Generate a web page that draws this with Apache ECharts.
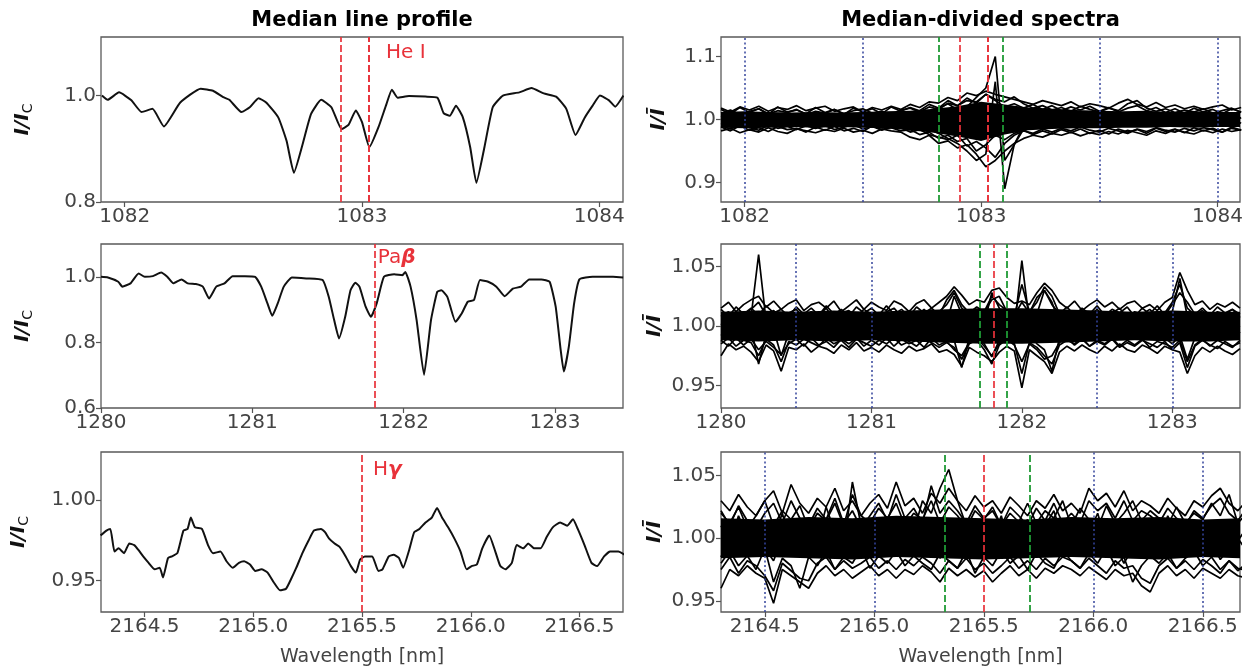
<!DOCTYPE html>
<html><head><meta charset="utf-8">
<script src="https://cdn.jsdelivr.net/npm/echarts@6/dist/echarts.min.js"></script>
<style>html,body{margin:0;padding:0;background:#fff}#c{width:1249px;height:668px}</style>
</head><body><div id="c"></div><script>
// ---------------- DATA ----------------
// Left column: median line profiles
const heLam = [1081.904,1081.928,1081.976,1082.028,1082.071,1082.117,1082.165,1082.234,1082.320,1082.372,1082.415,1082.441,1082.492,1082.527,1082.564,1082.596,1082.647,1082.682,1082.713,1082.750,1082.785,1082.828,1082.871,1082.914,1082.943,1082.974,1083.000,1083.031,1083.069,1083.103,1083.126,1083.150,1083.198,1083.267,1083.318,1083.344,1083.370,1083.396,1083.425,1083.456,1083.482,1083.516,1083.551,1083.594,1083.663,1083.714,1083.766,1083.818,1083.861,1083.900,1083.938,1083.972,1084.003,1084.041,1084.067,1084.102];
const heVal = [1.000,0.992,1.006,0.991,0.969,0.975,0.942,0.987,1.013,1.009,0.997,0.992,0.969,0.978,0.995,0.987,0.959,0.915,0.855,0.909,0.965,0.992,0.978,0.937,0.945,0.972,0.950,0.903,0.940,0.984,1.011,0.996,0.999,0.998,0.996,0.967,0.962,0.981,0.959,0.903,0.836,0.903,0.978,1.000,1.006,1.014,1.004,0.998,0.975,0.926,0.958,0.981,1.000,0.991,0.979,1.000];
const paLam = [1280.000,1280.046,1280.114,1280.141,1280.195,1280.249,1280.289,1280.343,1280.397,1280.438,1280.478,1280.532,1280.573,1280.627,1280.673,1280.714,1280.762,1280.816,1280.870,1280.951,1281.019,1281.059,1281.100,1281.132,1281.168,1281.208,1281.262,1281.357,1281.465,1281.505,1281.541,1281.573,1281.614,1281.649,1281.681,1281.708,1281.749,1281.784,1281.822,1281.870,1281.938,1281.992,1282.011,1282.046,1282.086,1282.135,1282.181,1282.222,1282.249,1282.289,1282.343,1282.384,1282.424,1282.465,1282.505,1282.559,1282.613,1282.668,1282.722,1282.776,1282.830,1282.911,1282.965,1283.005,1283.038,1283.059,1283.092,1283.127,1283.162,1283.249,1283.384,1283.451];
const paVal = [1.000,0.998,0.985,0.970,0.980,1.010,1.000,1.002,1.013,1.000,0.980,0.992,0.980,0.978,0.970,0.934,0.970,0.980,1.002,1.002,1.000,0.970,0.919,0.881,0.919,0.970,0.998,0.995,0.990,0.939,0.868,0.812,0.878,0.959,0.982,0.970,0.909,0.878,0.919,1.000,1.008,1.005,1.015,0.970,0.868,0.701,0.868,0.954,0.959,0.939,0.863,0.888,0.924,0.929,0.990,0.985,0.970,0.941,0.964,0.970,0.992,0.992,0.985,0.909,0.777,0.711,0.787,0.919,0.992,1.000,1.000,0.998];
const hgLam = [2164.298,2164.325,2164.343,2164.362,2164.381,2164.406,2164.430,2164.453,2164.472,2164.494,2164.519,2164.547,2164.570,2164.585,2164.608,2164.626,2164.651,2164.679,2164.698,2164.713,2164.732,2164.764,2164.792,2164.815,2164.849,2164.877,2164.906,2164.934,2164.958,2164.985,2165.009,2165.038,2165.066,2165.094,2165.123,2165.151,2165.174,2165.198,2165.226,2165.255,2165.279,2165.311,2165.330,2165.349,2165.374,2165.396,2165.425,2165.449,2165.472,2165.491,2165.513,2165.547,2165.575,2165.594,2165.623,2165.645,2165.670,2165.689,2165.717,2165.740,2165.764,2165.792,2165.821,2165.845,2165.868,2165.896,2165.925,2165.953,2165.981,2166.004,2166.028,2166.053,2166.085,2166.113,2166.136,2166.160,2166.189,2166.211,2166.242,2166.264,2166.292,2166.321,2166.349,2166.377,2166.411,2166.443,2166.470,2166.492,2166.523,2166.555,2166.581,2166.613,2166.641,2166.679,2166.708];
const hgVal = [0.978,0.981,0.982,0.968,0.970,0.967,0.973,0.972,0.969,0.965,0.961,0.957,0.958,0.952,0.964,0.965,0.967,0.981,0.982,0.989,0.983,0.982,0.972,0.967,0.968,0.962,0.958,0.961,0.962,0.960,0.956,0.957,0.955,0.949,0.944,0.945,0.951,0.958,0.967,0.975,0.981,0.982,0.980,0.976,0.973,0.971,0.965,0.959,0.955,0.963,0.965,0.965,0.956,0.957,0.965,0.966,0.964,0.958,0.969,0.980,0.982,0.986,0.989,0.995,0.989,0.983,0.976,0.968,0.957,0.959,0.960,0.970,0.978,0.968,0.959,0.957,0.961,0.972,0.970,0.973,0.970,0.970,0.977,0.983,0.986,0.984,0.988,0.982,0.972,0.961,0.959,0.965,0.968,0.968,0.966];

// Right column: median-divided spectra (sampling grids: start, step, count)
const heGrid = {start:1081.90, step:0.04, n:56};
const heSpec1 = [1.018,1.012,1.020,1.015,1.021,1.013,1.019,1.016,1.022,1.014,1.018,1.021,1.013,1.017,1.020,1.012,1.019,1.015,1.021,1.016,1.024,1.019,1.028,1.026,1.035,1.030,1.042,1.038,1.045,1.040,1.036,1.032,1.028,1.024,1.030,1.026,1.022,1.028,1.020,1.025,1.022,1.018,1.026,1.032,1.024,1.020,1.027,1.019,1.023,1.017,1.021,1.016,1.020,1.023,1.015,1.019];
const heSpec2 = [0.982,0.986,0.979,0.984,0.980,0.987,0.981,0.978,0.985,0.982,0.979,0.984,0.981,0.986,0.980,0.983,0.978,0.985,0.982,0.980,0.972,0.968,0.975,0.962,0.966,0.955,0.960,0.945,0.925,0.935,0.950,0.962,0.970,0.975,0.972,0.978,0.975,0.980,0.974,0.979,0.976,0.981,0.977,0.983,0.979,0.975,0.982,0.978,0.984,0.980,0.977,0.983,0.979,0.985,0.981,0.984];
const heSpec3 = [1.005,0.998,1.008,1.002,0.996,1.006,1.000,1.009,0.997,1.004,1.001,0.995,1.007,1.003,0.999,1.008,0.996,1.004,1.000,1.006,1.002,1.008,1.012,1.018,1.025,1.015,1.020,1.035,1.050,1.100,0.935,0.960,0.990,1.005,1.012,1.002,1.008,0.998,1.006,1.002,0.997,1.007,1.001,1.009,0.999,1.004,1.010,0.998,1.005,1.001,1.006,0.999,1.004,1.008,0.997,1.003];
const heSpec4 = [0.992,1.000,0.994,0.990,0.998,0.993,1.001,0.991,0.996,0.999,0.993,0.998,0.990,0.996,1.001,0.992,0.997,0.994,0.999,0.991,0.995,0.990,0.985,0.978,0.970,0.962,0.950,0.935,0.945,1.060,0.890,0.960,0.985,0.995,0.990,1.000,0.993,0.997,0.990,0.999,0.994,0.990,0.998,0.993,0.996,1.000,0.991,0.997,0.994,0.999,0.992,0.998,0.993,0.996,1.000,0.994];
const heSpec5 = [1.010,1.015,1.008,1.013,1.017,1.009,1.014,1.011,1.016,1.008,1.013,1.010,1.016,1.009,1.014,1.017,1.010,1.013,1.008,1.015,1.018,1.012,1.020,1.016,1.026,1.022,1.030,1.028,1.040,1.032,1.028,1.036,1.025,1.018,1.022,1.015,1.019,1.013,1.021,1.016,1.012,1.018,1.014,1.025,1.030,1.018,1.013,1.017,1.011,1.015,1.012,1.017,1.010,1.014,1.018,1.011];
const heSpec6 = [0.990,0.985,0.992,0.987,0.983,0.991,0.986,0.989,0.984,0.990,0.986,0.990,0.984,0.988,0.992,0.985,0.989,0.983,0.990,0.987,0.980,0.984,0.976,0.972,0.968,0.975,0.958,0.965,0.955,0.940,0.962,0.975,0.982,0.978,0.985,0.980,0.986,0.982,0.988,0.983,0.980,0.986,0.982,0.978,0.985,0.981,0.987,0.983,0.980,0.986,0.982,0.987,0.984,0.980,0.986,0.983];
const heSpec7 = [1.016,1.009,1.019,1.011,1.017,1.008,1.020,1.012,1.015,1.009,1.019,1.011,1.016,1.008,1.018,1.012,1.017,1.009,1.020,1.013,1.019,1.014,1.024,1.018,1.030,1.022,1.034,1.026,1.040,1.030,1.020,1.025,1.018,1.024,1.016,1.022,1.014,1.020,1.015,1.021,1.013,1.019,1.012,1.018,1.022,1.014,1.019,1.011,1.017,1.010,1.018,1.012,1.016,1.009,1.017,1.012];
const heSpec8 = [0.988,0.982,0.990,0.983,0.987,0.981,0.989,0.984,0.986,0.980,0.988,0.983,0.989,0.982,0.986,0.981,0.990,0.984,0.987,0.982,0.984,0.976,0.980,0.970,0.975,0.965,0.970,0.950,0.960,0.975,0.968,0.978,0.983,0.976,0.982,0.977,0.984,0.979,0.985,0.978,0.983,0.977,0.985,0.980,0.984,0.978,0.986,0.981,0.985,0.979,0.987,0.982,0.986,0.980,0.988,0.983];
const heBandX  = [1081.9,1082.0,1082.1,1082.2,1082.3,1082.4,1082.5,1082.6,1082.7,1082.8,1082.9,1083.0,1083.1,1083.2,1083.3,1083.4,1083.5,1083.6,1083.7,1083.8,1083.9,1084.0,1084.1];
const heBandLo = [0.987,0.986,0.987,0.988,0.987,0.988,0.987,0.986,0.983,0.979,0.973,0.966,0.976,0.983,0.985,0.986,0.986,0.987,0.987,0.988,0.987,0.988,0.988];
const heBandHi = [1.012,1.013,1.012,1.011,1.012,1.011,1.012,1.013,1.014,1.017,1.021,1.028,1.024,1.019,1.017,1.015,1.014,1.013,1.014,1.012,1.013,1.012,1.012];

const paGrid = {start:1280.00, step:0.05, n:70};
const paSpec1 = [1.015,1.020,1.012,1.018,1.022,1.025,1.016,1.021,1.014,1.019,1.022,1.013,1.018,1.020,1.015,1.021,1.012,1.017,1.022,1.014,1.020,1.016,1.013,1.021,1.018,1.012,1.019,1.022,1.015,1.020,1.025,1.033,1.026,1.018,1.022,1.020,1.030,1.032,1.024,1.019,1.021,1.018,1.028,1.036,1.030,1.020,1.015,1.021,1.013,1.018,1.022,1.016,1.020,1.014,1.019,1.021,1.015,1.018,1.013,1.020,1.024,1.045,1.030,1.018,1.021,1.014,1.019,1.016,1.020,1.015];
const paSpec2 = [0.975,0.985,0.980,0.983,0.978,0.970,0.984,0.979,0.962,0.982,0.980,0.985,0.978,0.983,0.981,0.977,0.984,0.980,0.986,0.979,0.982,0.978,0.984,0.980,0.977,0.983,0.979,0.981,0.985,0.978,0.980,0.976,0.966,0.982,0.978,0.975,0.970,0.978,0.983,0.979,0.948,0.980,0.975,0.970,0.960,0.978,0.983,0.979,0.984,0.980,0.977,0.983,0.979,0.985,0.980,0.978,0.984,0.981,0.977,0.983,0.980,0.978,0.960,0.975,0.982,0.978,0.983,0.979,0.976,0.981];
const paSpec3 = [1.002,0.996,1.006,1.000,1.008,1.060,1.004,0.998,1.007,1.001,0.997,1.005,1.000,1.008,0.996,1.003,1.009,0.999,1.004,0.997,1.006,1.001,0.998,1.007,1.002,0.996,1.005,1.000,1.008,0.997,1.003,1.025,1.010,0.999,1.006,1.002,1.028,1.015,1.004,0.998,1.055,1.003,1.010,1.030,1.020,1.002,0.997,1.006,1.001,1.008,0.998,1.004,1.000,1.007,0.996,1.003,1.008,1.000,0.997,1.005,1.012,1.040,1.008,0.999,1.005,1.001,0.996,1.006,1.002,0.999];
const paSpec4 = [0.992,0.998,0.990,0.995,0.999,0.968,0.993,0.997,0.975,0.994,0.990,0.996,0.992,0.999,0.988,0.994,0.997,0.991,0.995,0.989,0.996,0.992,0.998,0.990,0.995,0.999,0.991,0.994,0.989,0.997,0.992,0.988,0.965,0.990,0.996,0.985,0.974,0.988,0.995,0.991,0.995,0.993,0.985,0.980,0.962,0.990,0.996,0.992,0.998,0.990,0.994,0.999,0.991,0.996,0.989,0.995,0.998,0.992,0.994,0.990,0.985,0.992,0.972,0.990,0.996,0.991,0.997,0.993,0.989,0.995];
const paSpec5 = [1.008,1.012,1.005,1.010,1.014,1.020,1.009,1.013,1.006,1.011,1.014,1.007,1.012,1.009,1.015,1.006,1.011,1.013,1.008,1.014,1.010,1.006,1.012,1.015,1.008,1.013,1.009,1.014,1.007,1.012,1.018,1.028,1.015,1.010,1.014,1.012,1.022,1.025,1.012,1.008,1.035,1.012,1.020,1.033,1.025,1.010,1.013,1.007,1.012,1.009,1.014,1.008,1.011,1.015,1.007,1.012,1.010,1.014,1.008,1.011,1.020,1.035,1.015,1.009,1.013,1.008,1.012,1.010,1.014,1.007];
const paSpec6 = [0.985,0.990,0.983,0.988,0.986,0.975,0.989,0.984,0.970,0.987,0.984,0.989,0.986,0.983,0.990,0.985,0.988,0.982,0.989,0.986,0.983,0.988,0.985,0.990,0.984,0.987,0.983,0.989,0.986,0.982,0.986,0.982,0.972,0.985,0.988,0.980,0.968,0.984,0.989,0.985,0.960,0.986,0.982,0.975,0.968,0.984,0.988,0.985,0.990,0.983,0.987,0.984,0.989,0.982,0.986,0.983,0.988,0.985,0.982,0.987,0.980,0.986,0.965,0.983,0.988,0.984,0.981,0.987,0.983,0.986];
const paSpec7 = [1.014,1.008,1.016,1.010,1.015,1.009,1.017,1.011,1.014,1.008,1.016,1.010,1.015,1.009,1.017,1.010,1.014,1.008,1.016,1.011,1.015,1.009,1.017,1.010,1.014,1.008,1.016,1.011,1.015,1.009,1.022,1.030,1.018,1.011,1.016,1.012,1.025,1.018,1.013,1.009,1.020,1.011,1.024,1.030,1.018,1.010,1.016,1.009,1.015,1.010,1.017,1.009,1.014,1.011,1.016,1.008,1.015,1.010,1.017,1.009,1.018,1.028,1.020,1.010,1.015,1.009,1.016,1.011,1.014,1.010];
const paSpec8 = [0.988,0.983,0.990,0.984,0.989,0.980,0.987,0.982,0.976,0.985,0.989,0.983,0.990,0.984,0.987,0.982,0.989,0.985,0.990,0.983,0.988,0.984,0.990,0.983,0.989,0.985,0.988,0.982,0.990,0.984,0.987,0.980,0.975,0.986,0.990,0.983,0.975,0.985,0.989,0.984,0.970,0.985,0.980,0.972,0.975,0.986,0.990,0.984,0.989,0.983,0.988,0.985,0.990,0.983,0.988,0.984,0.989,0.982,0.987,0.985,0.982,0.988,0.970,0.984,0.989,0.983,0.988,0.985,0.982,0.988];
const paBandX  = [1280.00,1280.25,1280.50,1280.75,1281.00,1281.25,1281.50,1281.75,1282.00,1282.25,1282.50,1282.75,1283.00,1283.25,1283.45];
const paBandLo = [0.988,0.987,0.988,0.987,0.988,0.987,0.986,0.985,0.985,0.986,0.987,0.988,0.987,0.987,0.988];
const paBandHi = [1.012,1.013,1.012,1.013,1.012,1.013,1.014,1.015,1.015,1.014,1.013,1.012,1.013,1.012,1.012];

const hgGrid = {start:2164.30, step:0.04, n:61};
const hgSpec1 = [1.030,1.022,1.035,1.025,1.018,1.030,1.038,1.020,1.043,1.028,1.020,1.032,1.025,1.040,1.022,1.030,1.018,1.028,1.035,1.024,1.045,1.026,1.032,1.020,1.036,1.028,1.040,1.030,1.022,1.034,1.025,1.030,1.020,1.033,1.026,1.018,1.030,1.024,1.035,1.022,1.028,1.020,1.040,1.030,1.036,1.025,1.038,1.022,1.030,1.026,1.020,1.032,1.024,1.018,1.030,1.025,1.034,1.040,1.028,1.022,1.030];
const hgSpec2 = [0.960,0.975,0.970,0.978,0.972,0.968,0.948,0.975,0.970,0.965,0.960,0.972,0.978,0.970,0.975,0.968,0.973,0.978,0.970,0.975,0.968,0.975,0.971,0.978,0.973,0.965,0.976,0.970,0.975,0.969,0.974,0.965,0.972,0.978,0.970,0.975,0.968,0.976,0.972,0.978,0.975,0.970,0.977,0.972,0.967,0.975,0.970,0.972,0.962,0.957,0.972,0.978,0.970,0.975,0.968,0.976,0.972,0.968,0.975,0.970,0.968];
const hgSpec3 = [1.010,0.995,1.018,1.002,0.990,1.012,1.000,1.020,0.995,1.008,1.015,0.998,1.025,1.005,0.992,1.045,1.010,0.997,1.012,1.003,0.996,1.015,1.005,1.030,1.020,1.040,1.055,1.030,1.010,0.995,1.008,1.000,1.018,0.990,1.005,1.015,0.998,1.010,1.022,1.000,0.993,1.012,1.004,1.020,0.996,1.008,1.015,0.999,1.010,1.003,0.995,1.018,1.002,1.010,0.994,1.015,1.006,1.000,1.012,0.998,1.008];
const hgSpec4 = [0.985,1.002,0.990,0.998,1.008,0.992,0.982,1.000,0.988,0.996,0.990,1.005,0.987,0.995,1.003,0.985,0.998,1.006,0.988,0.994,1.002,0.986,0.996,0.989,1.000,0.984,0.994,1.004,0.987,0.998,0.982,0.995,1.000,0.988,0.996,1.005,0.985,0.993,1.002,0.989,0.998,0.987,0.995,1.004,0.986,0.994,0.980,0.992,1.000,0.988,0.996,1.003,0.985,0.994,1.002,0.988,0.997,0.983,0.992,1.000,0.990];
const hgSpec5 = [1.020,1.012,1.025,1.008,1.018,1.030,1.010,1.022,1.015,1.026,1.008,1.020,1.014,1.028,1.010,1.035,1.018,1.012,1.024,1.016,1.028,1.010,1.020,1.015,1.030,1.012,1.025,1.018,1.008,1.022,1.015,1.025,1.010,1.020,1.013,1.028,1.012,1.022,1.016,1.030,1.010,1.024,1.015,1.008,1.026,1.012,1.020,1.030,1.014,1.022,1.016,1.010,1.025,1.012,1.020,1.015,1.028,1.018,1.035,1.012,1.020];
const hgSpec6 = [0.980,0.990,0.978,0.986,0.975,0.992,0.965,0.984,0.978,0.960,0.985,0.978,0.990,0.975,0.985,0.980,0.992,0.976,0.986,0.980,0.990,0.978,0.986,0.980,0.975,0.988,0.982,0.976,0.990,0.972,0.985,0.978,0.990,0.980,0.986,0.975,0.988,0.980,0.976,0.990,0.982,0.976,0.988,0.980,0.992,0.978,0.985,0.965,0.978,0.986,0.980,0.988,0.976,0.984,0.990,0.978,0.985,0.975,0.982,0.974,0.980];
const hgSpec7 = [1.022,1.010,1.026,1.014,1.008,1.020,1.028,1.012,1.030,1.016,1.010,1.024,1.015,1.032,1.012,1.022,1.008,1.018,1.028,1.014,1.035,1.016,1.024,1.012,1.042,1.020,1.030,1.022,1.012,1.026,1.016,1.022,1.010,1.025,1.018,1.010,1.024,1.014,1.028,1.012,1.020,1.012,1.030,1.022,1.028,1.016,1.030,1.014,1.022,1.018,1.012,1.024,1.016,1.010,1.022,1.016,1.026,1.032,1.020,1.014,1.024];
const hgSpec8 = [0.975,0.985,0.972,0.982,0.978,0.970,0.958,0.980,0.974,0.968,0.966,0.980,0.985,0.975,0.982,0.976,0.980,0.985,0.976,0.982,0.975,0.983,0.978,0.985,0.980,0.972,0.982,0.976,0.984,0.975,0.980,0.972,0.978,0.985,0.976,0.982,0.975,0.984,0.978,0.985,0.982,0.976,0.984,0.978,0.972,0.982,0.976,0.978,0.968,0.964,0.978,0.984,0.976,0.982,0.975,0.983,0.978,0.972,0.982,0.976,0.974];
const hgBandX  = [2164.3,2164.5,2164.7,2164.9,2165.1,2165.3,2165.5,2165.7,2165.9,2166.1,2166.3,2166.5,2166.67];
const hgBandLo = [0.984,0.985,0.984,0.983,0.985,0.984,0.983,0.984,0.985,0.984,0.983,0.985,0.984];
const hgBandHi = [1.016,1.015,1.017,1.016,1.018,1.017,1.016,1.015,1.017,1.016,1.017,1.015,1.016];

// Reference wavelengths (vertical lines)
const heRed = [1082.909, 1083.025, 1083.034];
const heGreen = [1082.82, 1083.09];
const heBlue = [1082.0, 1082.5, 1083.5, 1084.0];
const paRed = [1281.81];
const paGreen = [1281.72, 1281.90];
const paBlue = [1280.5, 1281.0, 1282.5, 1283.0];
const hgRed = [2165.5];
const hgGreen = [2165.32, 2165.71];
const hgBlue = [2164.5, 2165.0, 2166.0, 2166.5];

// Tick values
const heXTicks = [1082, 1083, 1084];
const paXTicks = [1280, 1281, 1282, 1283];
const hgXTicks = [2164.5, 2165.0, 2165.5, 2166.0, 2166.5];
const heLeftYTicks = [0.8, 1.0];
const paLeftYTicks = [0.6, 0.8, 1.0];
const hgLeftYTicks = [0.95, 1.00];
const heRightYTicks = [0.9, 1.0, 1.1];
const paRightYTicks = [0.95, 1.00, 1.05];
const hgRightYTicks = [0.95, 1.00, 1.05];

// Texts
const titles = ['Median line profile', 'Median-divided spectra'];
const xTitle = 'Wavelength [nm]';
const lineLabels = [
  {panel:0, x:1083.025, text:'He I'},
  {panel:2, x:1281.81, text:'Pa{g|β}'},
  {panel:4, x:2165.5, text:'H{g|γ}'}
];

// ---------------- CHART ----------------
const FONT = 'DejaVu Sans';
const RED = '#e8323a', GREEN = '#1f9a35', BLUE = '#34449c';
const gridPos = [
  {left:101, top:37, width:522, height:165},
  {left:721, top:37, width:519, height:165},
  {left:101, top:244, width:522, height:164},
  {left:721, top:244, width:519, height:164},
  {left:101, top:452, width:522, height:161},
  {left:721, top:452, width:519, height:161}
];
const panels = [
  {xr:[1081.9,1084.1], yr:[0.8,1.11], xt:heXTicks, yt:heLeftYTicks, xd:0, yd:1, gap:66, left:true},
  {xr:[1081.9,1084.095], yr:[0.869,1.131], xt:heXTicks, yt:heRightYTicks, xd:0, yd:1, gap:52, left:false},
  {xr:[1280,1283.45], yr:[0.6,1.1], xt:paXTicks, yt:paLeftYTicks, xd:0, yd:1, gap:66, left:true},
  {xr:[1280,1283.45], yr:[0.931,1.069], xt:paXTicks, yt:paRightYTicks, xd:0, yd:2, gap:56, left:false},
  {xr:[2164.3,2166.7], yr:[0.9306,1.0296], xt:hgXTicks, yt:hgLeftYTicks, xd:1, yd:2, gap:70, left:true},
  {xr:[2164.3,2166.67], yr:[0.941,1.069], xt:hgXTicks, yt:hgRightYTicks, xd:1, yd:2, gap:56, left:false}
];

function gridX(g){ const a=[]; for(let i=0;i<g.n;i++) a.push(+(g.start+g.step*i).toFixed(3)); return a; }
function pairs(xs, ys){ const n=Math.min(xs.length, ys.length); const a=[]; for(let i=0;i<n;i++) a.push([xs[i], ys[i]]); return a; }

const grid = gridPos.map(g => Object.assign({show:true, borderColor:'#5a5a5a', borderWidth:1.3, backgroundColor:'rgba(0,0,0,0)', containLabel:false}, g));
const xAxis = panels.map((p,i)=>({
  gridIndex:i, type:'value', min:p.xr[0], max:p.xr[1],
  splitLine:{show:false}, axisLine:{show:false, onZero:false},
  axisTick:{show:true, length:5, lineStyle:{color:'#555', width:1.2}, customValues:p.xt},
  axisLabel:{customValues:p.xt, fontFamily:FONT, fontSize:20, color:'#444', margin:5,
    formatter:v=>v.toFixed(p.xd)},
  name: i>=4 ? xTitle : '', nameLocation:'middle', nameGap:36,
  nameTextStyle:{fontFamily:FONT, fontSize:19, color:'#444'}
}));
const yAxis = panels.map((p,i)=>({
  gridIndex:i, type:'value', min:p.yr[0], max:p.yr[1],
  splitLine:{show:false}, axisLine:{show:false, onZero:false},
  axisTick:{show:true, length:5, lineStyle:{color:'#555', width:1.2}, customValues:p.yt},
  axisLabel:{customValues:p.yt, fontFamily:FONT, fontSize:20, color:'#444', margin:5,
    formatter:v=>v.toFixed(p.yd)},
  name: p.left ? '{a|I/I}{b|C}' : '{a|I/Ī}',
  nameLocation:'middle', nameRotate:90, nameGap:p.gap,
  nameTextStyle:{rich:{
    a:{fontFamily:FONT, fontSize:20, fontWeight:'bold', fontStyle:'italic', color:'#111'},
    b:{fontFamily:FONT, fontSize:14, color:'#111', padding:[10,0,0,0]}
  }}
}));

const series = [];
function profile(i, xs, ys){
  series.push({type:'line', xAxisIndex:i, yAxisIndex:i, data:pairs(xs,ys), showSymbol:false, smooth:0.15,
    lineStyle:{color:'#111', width:2}, silent:true, z:3});
}
function band(i, xs, lo, hi){
  const n = Math.min(xs.length, lo.length, hi.length);
  series.push({type:'custom', coordinateSystem:'cartesian2d', xAxisIndex:i, yAxisIndex:i, silent:true, z:2, clip:true,
    data:[[xs[0], lo[0]]],
    renderItem:(params, api)=>{
      const pts = [];
      for(let k=0;k<n;k++) pts.push(api.coord([xs[k], hi[k]]));
      for(let k=n-1;k>=0;k--) pts.push(api.coord([xs[k], lo[k]]));
      return {type:'polygon', shape:{points:pts}, style:{fill:'#000'}};
    }});
}
function spectra(i, g, list){
  const xs = gridX(g);
  list.forEach(arr => series.push({type:'line', xAxisIndex:i, yAxisIndex:i, data:pairs(xs,arr), showSymbol:false,
    lineStyle:{color:'#000', width:1.7}, silent:true, z:3}));
}
function vlines(i, reds, greens, blues){
  const d = [];
  (blues||[]).forEach(v=>d.push({xAxis:v, lineStyle:{color:BLUE, type:[2,2.5], width:1.5}}));
  (greens||[]).forEach(v=>d.push({xAxis:v, lineStyle:{color:GREEN, type:[7,3], width:1.8}}));
  (reds||[]).forEach(v=>d.push({xAxis:v, lineStyle:{color:RED, type:[7,3], width:1.7}}));
  series.push({type:'line', xAxisIndex:i, yAxisIndex:i, data:[], z:10, silent:true,
    markLine:{silent:true, symbol:['none','none'], label:{show:false}, animation:false, data:d}});
}

profile(0, heLam, heVal); vlines(0, heRed);
band(1, heBandX, heBandLo, heBandHi);
spectra(1, heGrid, [heSpec1, heSpec2, heSpec3, heSpec4, heSpec5, heSpec6, heSpec7, heSpec8]);
vlines(1, heRed, heGreen, heBlue);
profile(2, paLam, paVal); vlines(2, paRed);
band(3, paBandX, paBandLo, paBandHi);
spectra(3, paGrid, [paSpec1, paSpec2, paSpec3, paSpec4, paSpec5, paSpec6, paSpec7, paSpec8]);
vlines(3, paRed, paGreen, paBlue);
profile(4, hgLam, hgVal); vlines(4, hgRed);
band(5, hgBandX, hgBandLo, hgBandHi);
spectra(5, hgGrid, [hgSpec1, hgSpec2, hgSpec3, hgSpec4, hgSpec5, hgSpec6, hgSpec7, hgSpec8]);
vlines(5, hgRed, hgGreen, hgBlue);

const chart = echarts.init(document.getElementById('c'), null, {renderer:'canvas'});
chart.setOption({animation:false, backgroundColor:'#fff', grid, xAxis, yAxis, series});

// Titles and line labels
const graphics = [];
[0,1].forEach(c=>{
  const g = gridPos[c];
  graphics.push({type:'text', x:g.left + g.width/2, y:21, style:{text:titles[c], font:'bold 21px "DejaVu Sans"', fill:'#000', align:'center', verticalAlign:'middle'}});
});
const labelDy = [53, 258, 470];
const labelDx = [18, 3, 11];
lineLabels.forEach((L,k)=>{
  const px = chart.convertToPixel({xAxisIndex:L.panel, yAxisIndex:L.panel}, [L.x, panels[L.panel].yr[1]]);
  graphics.push({type:'text', x:px[0] + labelDx[k], y:labelDy[k],
    style:{text:L.text, fontFamily:FONT, fontSize:20, fill:RED, verticalAlign:'middle',
      rich:{g:{fontFamily:FONT, fontSize:20, fontWeight:'bold', fontStyle:'italic', fill:RED}}}});
});
chart.setOption({graphic:graphics});
</script></body></html>
